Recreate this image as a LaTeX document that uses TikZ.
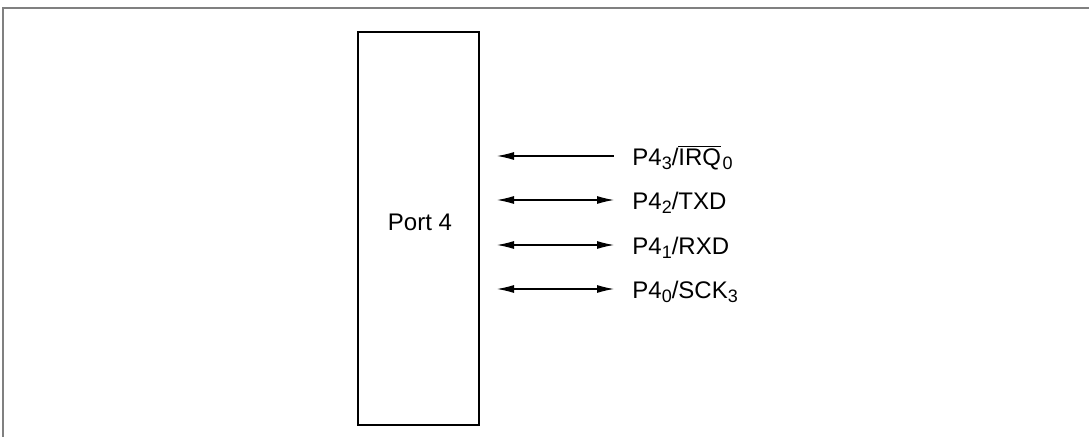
\documentclass[tikz,border=0pt]{standalone}
\usepackage{fontspec}
\setmainfont{Liberation Sans}
\usetikzlibrary{arrows.meta}
\newcommand{\lowsub}[1]{\raisebox{-0.28ex}{\fontsize{9}{10}\selectfont #1}}
\begin{document}
\begin{tikzpicture}[x=0.5pt,y=-0.5pt,
  frameline/.style={draw=black!50,line width=1pt},
  portbox/.style={draw,line width=0.6pt,minimum width=60.5pt,minimum height=196.5pt,inner sep=0pt},
  sig/.style={line width=0.55pt,{Latex[length=8.5pt,width=4pt]}-{Latex[length=8.5pt,width=4pt]}},
  insig/.style={line width=0.55pt,{Latex[length=8.5pt,width=4pt]}-},
  lbl/.style={anchor=base west,inner sep=0pt,font=\fontsize{12}{14}\selectfont}]
\useasboundingbox (0,0) rectangle (1089,438);
\coordinate (fa) at (3,437);
\coordinate (fb) at (3,8);
\coordinate (fc) at (1089,8);
\draw[frameline] (fa) -- (fb) -- (fc);
\node[portbox] (port) at (418.5,228.5) {};
\node[font=\fontsize{12}{14}\selectfont] (portlbl) at (420,222) {Port 4};
% signal labels
\node[lbl] (t3) at (632,165.5) {P4\lowsub{3}/$\overline{\mbox{IRQ}}$\kern0.8pt\lowsub{0}};
\node[lbl] (t2) at (632,209.5) {P4\lowsub{2}/TXD};
\node[lbl] (t1) at (632,254.5) {P4\lowsub{1}/RXD};
\node[lbl] (t0) at (632,298.5) {P4\lowsub{0}/SCK\lowsub{3}};
% arrow ends
\coordinate (l3) at (497,156);
\coordinate (r3) at (614,156);
\coordinate (l2) at (497,200);
\coordinate (r2) at (614,200);
\coordinate (l1) at (497,245);
\coordinate (r1) at (614,245);
\coordinate (l0) at (497,289);
\coordinate (r0) at (614,289);
\draw[insig] (l3) -- (r3);
\draw[sig] (l2) -- (r2);
\draw[sig] (l1) -- (r1);
\draw[sig] (l0) -- (r0);
\end{tikzpicture}
\end{document}
